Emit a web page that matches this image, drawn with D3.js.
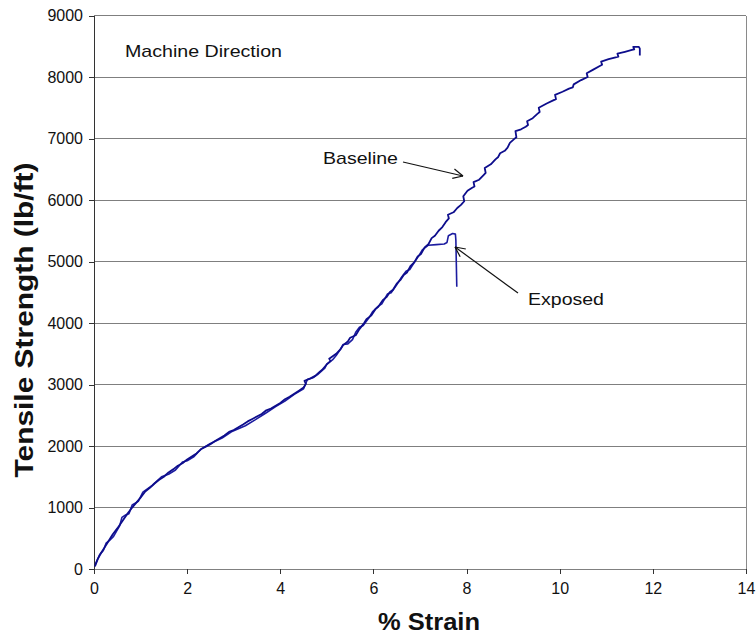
<!DOCTYPE html>
<html>
<head>
<meta charset="utf-8">
<script src="https://cdn.jsdelivr.net/npm/d3@7/dist/d3.min.js"></script>
<style>
  html, body { margin: 0; padding: 0; background: #fff; }
  svg { display: block; }
  text { font-family: "Liberation Sans", Arial, sans-serif; fill: #111; }
</style>
</head>
<body>
<svg id="chart" width="756" height="637"></svg>
<script>
// Tensile test curves: [% strain, tensile strength lb/ft]
const baselinePoints = [
  [0.02, 40], [0.08, 160], [0.15, 260], [0.22, 340], [0.3, 440], [0.4, 560],
  [0.5, 660], [0.6, 770], [0.7, 880], [0.8, 980], [0.9, 1070], [1.0, 1160],
  [1.1, 1260], [1.2, 1320], [1.3, 1390], [1.4, 1450], [1.5, 1500], [1.6, 1570],
  [1.7, 1620], [1.8, 1680], [1.9, 1720], [2.0, 1780], [2.1, 1830], [2.2, 1880],
  [2.3, 1950], [2.4, 1990], [2.5, 2030], [2.6, 2080], [2.8, 2170], [2.9, 2230],
  [3.0, 2260], [3.2, 2350], [3.3, 2400], [3.4, 2440], [3.6, 2520], [3.7, 2580],
  [3.8, 2610], [4.0, 2700], [4.1, 2760], [4.2, 2800], [4.4, 2900], [4.5, 2950],
  [4.55, 3010], [4.52, 3060], [4.65, 3100], [4.75, 3140], [4.85, 3210],
  [4.9, 3240], [5.0, 3330], [5.08, 3380], [5.05, 3420], [5.2, 3500],
  [5.3, 3580], [5.35, 3640], [5.45, 3700], [5.5, 3760], [5.62, 3800],
  [5.7, 3900], [5.8, 4000], [5.85, 4060], [5.95, 4120], [6.05, 4230],
  [6.1, 4260], [6.2, 4370], [6.28, 4420], [6.35, 4500], [6.42, 4540],
  [6.5, 4640], [6.58, 4700], [6.65, 4780], [6.72, 4820], [6.8, 4930],
  [6.88, 4990], [6.95, 5080], [7.02, 5120], [7.1, 5230], [7.18, 5280],
  [7.25, 5380], [7.32, 5420], [7.4, 5500], [7.48, 5560], [7.55, 5640],
  [7.62, 5700], [7.6, 5760], [7.72, 5800], [7.8, 5870], [7.88, 5920],
  [7.95, 5980], [7.93, 6060], [8.02, 6150],
  [8.12, 6200], [8.17, 6220], [8.15, 6290], [8.27, 6330], [8.36, 6400],
  [8.41, 6440], [8.39, 6520], [8.52, 6580], [8.62, 6660], [8.68, 6700],
  [8.72, 6760], [8.82, 6800], [8.88, 6850], [8.93, 6930], [9.02, 6990],
  [9.07, 7020], [9.05, 7120], [9.17, 7150], [9.27, 7190], [9.32, 7220],
  [9.3, 7280], [9.42, 7330], [9.52, 7400], [9.57, 7430], [9.55, 7500],
  [9.72, 7570], [9.86, 7620], [9.92, 7640], [9.9, 7710], [10.06, 7760],
  [10.2, 7810], [10.28, 7830], [10.3, 7880], [10.46, 7950], [10.6, 8000],
  [10.58, 8060], [10.72, 8120], [10.86, 8180], [10.91, 8200], [10.89, 8250],
  [11.05, 8290], [11.2, 8320], [11.26, 8330], [11.24, 8380], [11.4, 8410],
  [11.55, 8440], [11.6, 8450], [11.58, 8490], [11.7, 8490], [11.72, 8460],
  [11.72, 8350]
];

const exposedPoints = [
  [0.03, 80], [0.12, 230], [0.2, 300], [0.26, 420], [0.34, 470], [0.42, 530],
  [0.55, 700], [0.6, 840], [0.68, 880], [0.75, 900], [0.82, 1040], [0.95, 1100],
  [1.05, 1250], [1.25, 1360], [1.45, 1500], [1.6, 1540], [1.75, 1610],
  [1.9, 1740], [2.0, 1760], [2.15, 1830], [2.3, 1950], [2.5, 2040],
  [2.75, 2130], [2.95, 2230], [3.1, 2280], [3.25, 2330], [3.45, 2420],
  [3.7, 2540], [3.9, 2640], [4.1, 2730], [4.3, 2840], [4.5, 2930],
  [4.58, 3080], [4.7, 3110], [4.8, 3160], [4.95, 3260], [5.0, 3330],
  [5.12, 3400], [5.2, 3470], [5.28, 3560], [5.35, 3650], [5.45, 3660],
  [5.55, 3730], [5.62, 3850], [5.7, 3930], [5.78, 3960], [5.9, 4080],
  [5.98, 4180], [6.1, 4270], [6.18, 4310], [6.3, 4470], [6.38, 4490],
  [6.5, 4620], [6.6, 4740], [6.7, 4840], [6.78, 4870], [6.9, 5010],
  [6.98, 5100], [7.05, 5190], [7.18, 5265], [7.35, 5275], [7.52, 5285],
  [7.58, 5310], [7.61, 5420], [7.7, 5455], [7.76, 5445], [7.77, 5350],
  [7.79, 4590]
];

const xTicks = [0, 2, 4, 6, 8, 10, 12, 14];
const yTicks = [0, 1000, 2000, 3000, 4000, 5000, 6000, 7000, 8000, 9000];

const svg = d3.select("#chart");
const plotLeft = 94, plotRight = 746, plotTop = 15.5, plotBottom = 569;

const x = d3.scaleLinear().domain([0, 14]).range([plotLeft, plotRight]);
const y = d3.scaleLinear().domain([0, 9000]).range([plotBottom, plotTop]);

// horizontal gridlines
svg.append("g")
  .selectAll("line")
  .data(yTicks.filter(d => d > 0))
  .join("line")
  .attr("x1", plotLeft).attr("x2", plotRight)
  .attr("y1", d => y(d)).attr("y2", d => y(d))
  .attr("stroke", "#7f7f7f").attr("stroke-width", 1)
  .attr("shape-rendering", "crispEdges");

// right border of the plot area
svg.append("line")
  .attr("x1", plotRight).attr("x2", plotRight)
  .attr("y1", plotTop).attr("y2", plotBottom)
  .attr("stroke", "#8a8a8a").attr("shape-rendering", "crispEdges");

// axes
const xAxis = svg.append("g")
  .attr("transform", `translate(0,${plotBottom})`)
  .call(d3.axisBottom(x).tickValues(xTicks).tickSize(5).tickPadding(9).tickFormat(d3.format("d")));
const yAxis = svg.append("g")
  .attr("transform", `translate(${plotLeft},0)`)
  .call(d3.axisLeft(y).tickValues(yTicks).tickSize(5).tickPadding(6).tickFormat(d3.format("d")));

xAxis.select(".domain").attr("stroke", "#808080");
yAxis.select(".domain").attr("stroke", "#333");
[xAxis, yAxis].forEach(a => {
  a.selectAll(".tick line").attr("stroke", "#333");
  a.selectAll(".tick text")
    .style("font-family", '"Liberation Sans", Arial, sans-serif')
    .style("font-size", "16px")
    .attr("fill", "#111");
  a.selectAll("path, line").attr("shape-rendering", "crispEdges");
});

// curves
const line = d3.line().x(d => x(d[0])).y(d => y(d[1]));
svg.append("path")
  .datum(exposedPoints)
  .attr("d", line)
  .attr("fill", "none")
  .attr("stroke", "#1c1ca0")
  .attr("stroke-width", 1.6)
  .attr("stroke-linejoin", "round");
svg.append("path")
  .datum(baselinePoints)
  .attr("d", line)
  .attr("fill", "none")
  .attr("stroke", "#0d0d8c")
  .attr("stroke-width", 1.8)
  .attr("stroke-linejoin", "round");

// axis titles
svg.append("text")
  .attr("x", 429).attr("y", 630)
  .attr("text-anchor", "middle")
  .style("font-size", "24px").style("font-weight", "bold")
  .attr("textLength", 102).attr("lengthAdjust", "spacingAndGlyphs")
  .text("% Strain");

svg.append("text")
  .attr("transform", "translate(33,320) rotate(-90)")
  .attr("text-anchor", "middle")
  .style("font-size", "25px").style("font-weight", "bold")
  .attr("textLength", 315).attr("lengthAdjust", "spacingAndGlyphs")
  .text("Tensile Strength (lb/ft)");

// annotations
svg.append("text")
  .attr("x", 125).attr("y", 57)
  .style("font-size", "17px")
  .attr("textLength", 157).attr("lengthAdjust", "spacingAndGlyphs")
  .text("Machine Direction");

svg.append("text")
  .attr("x", 323).attr("y", 164)
  .style("font-size", "17px")
  .attr("textLength", 75).attr("lengthAdjust", "spacingAndGlyphs")
  .text("Baseline");

svg.append("text")
  .attr("x", 528).attr("y", 305)
  .style("font-size", "17px")
  .attr("textLength", 76).attr("lengthAdjust", "spacingAndGlyphs")
  .text("Exposed");

// open arrowheads pointing at the curves
function arrow(x1, y1, x2, y2) {
  const g = svg.append("g").attr("stroke", "#111").attr("stroke-width", 1.2).attr("fill", "none");
  g.append("line").attr("x1", x1).attr("y1", y1).attr("x2", x2).attr("y2", y2);
  const a = Math.atan2(y2 - y1, x2 - x1);
  const len = 11, spread = 0.45;
  [a + Math.PI - spread, a + Math.PI + spread].forEach(t => {
    g.append("line")
      .attr("x1", x2).attr("y1", y2)
      .attr("x2", x2 + len * Math.cos(t)).attr("y2", y2 + len * Math.sin(t));
  });
}
arrow(403, 162, 463, 176);
arrow(518, 293, 455, 247);
</script>
</body>
</html>
